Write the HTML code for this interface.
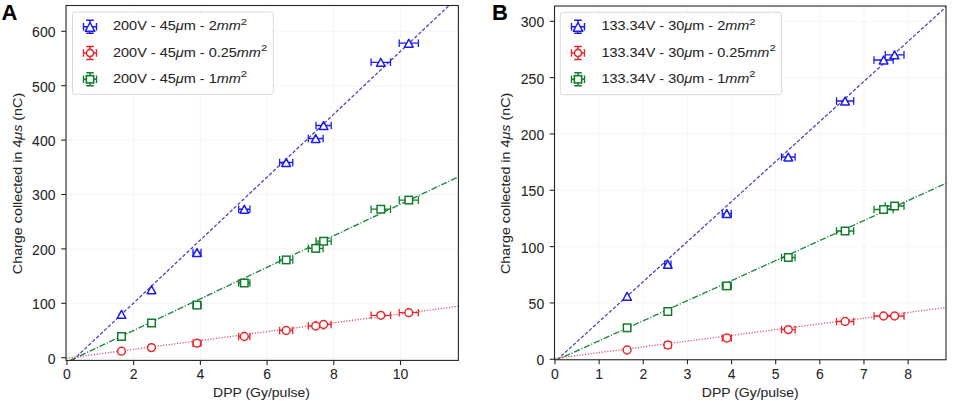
<!DOCTYPE html><html><head><meta charset="utf-8"><style>text{stroke:#262626;stroke-width:0.06px}html,body{margin:0;padding:0;width:955px;height:401px;overflow:hidden;background:#fff;position:relative}</style></head><body><svg width="955" height="401" viewBox="0 0 955 401" style="position:absolute;left:0;top:0">
<g style='font-family:"Liberation Sans",sans-serif' fill="#262626">
<defs><clipPath id="ca"><rect x="66.0" y="5.5" width="392.4" height="354.9"/></clipPath><clipPath id="cb"><rect x="554.5" y="6" width="391.5" height="353.75"/></clipPath></defs>
<line x1="67.0" y1="5.5" x2="67.0" y2="360.4" stroke="#f5f5f5" stroke-width="1"/>
<line x1="133.7" y1="5.5" x2="133.7" y2="360.4" stroke="#f5f5f5" stroke-width="1"/>
<line x1="200.4" y1="5.5" x2="200.4" y2="360.4" stroke="#f5f5f5" stroke-width="1"/>
<line x1="267.1" y1="5.5" x2="267.1" y2="360.4" stroke="#f5f5f5" stroke-width="1"/>
<line x1="333.8" y1="5.5" x2="333.8" y2="360.4" stroke="#f5f5f5" stroke-width="1"/>
<line x1="400.5" y1="5.5" x2="400.5" y2="360.4" stroke="#f5f5f5" stroke-width="1"/>
<line x1="66.0" y1="357.7" x2="458.4" y2="357.7" stroke="#f5f5f5" stroke-width="1"/>
<line x1="66.0" y1="303.3" x2="458.4" y2="303.3" stroke="#f5f5f5" stroke-width="1"/>
<line x1="66.0" y1="248.9" x2="458.4" y2="248.9" stroke="#f5f5f5" stroke-width="1"/>
<line x1="66.0" y1="194.5" x2="458.4" y2="194.5" stroke="#f5f5f5" stroke-width="1"/>
<line x1="66.0" y1="140.1" x2="458.4" y2="140.1" stroke="#f5f5f5" stroke-width="1"/>
<line x1="66.0" y1="85.7" x2="458.4" y2="85.7" stroke="#f5f5f5" stroke-width="1"/>
<line x1="66.0" y1="31.3" x2="458.4" y2="31.3" stroke="#f5f5f5" stroke-width="1"/>
<line x1="72.7" y1="360.4" x2="448.5" y2="6.0" stroke="#4b45c0" stroke-width="1.3" stroke-dasharray="3.5 1.9" clip-path="url(#ca)"/>
<line x1="70.2" y1="360.4" x2="458.4" y2="176.8" stroke="#1f8a45" stroke-width="1.4" stroke-dasharray="6.2 1.7 1.2 1.7" clip-path="url(#ca)"/>
<line x1="66.0" y1="358.3" x2="458.4" y2="306.25" stroke="#d8506a" stroke-width="1.3" stroke-dasharray="1.2 1.6" clip-path="url(#ca)"/>
<path d="M193.0,252.5 H201.0 M193.0,248.7 V256.3 M201.0,248.7 V256.3" stroke="#1c1cf0" stroke-width="1.3" fill="none"/>
<path d="M238.70000000000002,209.25 H249.9 M238.70000000000002,205.45 V213.05 M249.9,205.45 V213.05" stroke="#1c1cf0" stroke-width="1.3" fill="none"/>
<path d="M279.59999999999997,162.5 H292.8 M279.59999999999997,158.7 V166.3 M292.8,158.7 V166.3" stroke="#1c1cf0" stroke-width="1.3" fill="none"/>
<path d="M308.3,138.5 H323.09999999999997 M308.3,134.7 V142.3 M323.09999999999997,134.7 V142.3" stroke="#1c1cf0" stroke-width="1.3" fill="none"/>
<path d="M316.0,125.5 H331.20000000000005 M316.0,121.7 V129.3 M331.20000000000005,121.7 V129.3" stroke="#1c1cf0" stroke-width="1.3" fill="none"/>
<path d="M371.1,62.3 H390.5 M371.1,58.5 V66.1 M390.5,58.5 V66.1" stroke="#1c1cf0" stroke-width="1.3" fill="none"/>
<path d="M399.2,43.2 H418.40000000000003 M399.2,39.400000000000006 V47.0 M418.40000000000003,39.400000000000006 V47.0" stroke="#1c1cf0" stroke-width="1.3" fill="none"/>
<path d="M121.5,310.44399999999996 L125.8,318.356 L117.2,318.356 Z" fill="#fff" stroke="#1c1cf0" stroke-width="1.5" stroke-linejoin="round"/>
<path d="M151.5,285.74399999999997 L155.8,293.656 L147.2,293.656 Z" fill="#fff" stroke="#1c1cf0" stroke-width="1.5" stroke-linejoin="round"/>
<path d="M197.0,248.544 L201.3,256.456 L192.7,256.456 Z" fill="#fff" stroke="#1c1cf0" stroke-width="1.5" stroke-linejoin="round"/>
<path d="M244.3,205.294 L248.60000000000002,213.206 L240.0,213.206 Z" fill="#fff" stroke="#1c1cf0" stroke-width="1.5" stroke-linejoin="round"/>
<path d="M286.2,158.544 L290.5,166.456 L281.9,166.456 Z" fill="#fff" stroke="#1c1cf0" stroke-width="1.5" stroke-linejoin="round"/>
<path d="M315.7,134.544 L320.0,142.456 L311.4,142.456 Z" fill="#fff" stroke="#1c1cf0" stroke-width="1.5" stroke-linejoin="round"/>
<path d="M323.6,121.544 L327.90000000000003,129.456 L319.3,129.456 Z" fill="#fff" stroke="#1c1cf0" stroke-width="1.5" stroke-linejoin="round"/>
<path d="M380.8,58.343999999999994 L385.1,66.256 L376.5,66.256 Z" fill="#fff" stroke="#1c1cf0" stroke-width="1.5" stroke-linejoin="round"/>
<path d="M408.8,39.244 L413.1,47.156000000000006 L404.5,47.156000000000006 Z" fill="#fff" stroke="#1c1cf0" stroke-width="1.5" stroke-linejoin="round"/>
<path d="M193.0,343.2 H201.0 M193.0,339.4 V347.0 M201.0,339.4 V347.0" stroke="#e8282c" stroke-width="1.3" fill="none"/>
<path d="M238.70000000000002,336.5 H249.9 M238.70000000000002,332.7 V340.3 M249.9,332.7 V340.3" stroke="#e8282c" stroke-width="1.3" fill="none"/>
<path d="M279.59999999999997,330.5 H292.8 M279.59999999999997,326.7 V334.3 M292.8,326.7 V334.3" stroke="#e8282c" stroke-width="1.3" fill="none"/>
<path d="M308.3,326.0 H323.09999999999997 M308.3,322.2 V329.8 M323.09999999999997,322.2 V329.8" stroke="#e8282c" stroke-width="1.3" fill="none"/>
<path d="M316.0,324.5 H331.20000000000005 M316.0,320.7 V328.3 M331.20000000000005,320.7 V328.3" stroke="#e8282c" stroke-width="1.3" fill="none"/>
<path d="M371.1,315.3 H390.5 M371.1,311.5 V319.1 M390.5,311.5 V319.1" stroke="#e8282c" stroke-width="1.3" fill="none"/>
<path d="M399.2,312.7 H418.40000000000003 M399.2,308.9 V316.5 M418.40000000000003,308.9 V316.5" stroke="#e8282c" stroke-width="1.3" fill="none"/>
<circle cx="121.5" cy="351.2" r="3.9" fill="#fff" stroke="#e8282c" stroke-width="1.5"/>
<circle cx="151.5" cy="347.6" r="3.9" fill="#fff" stroke="#e8282c" stroke-width="1.5"/>
<circle cx="197.0" cy="343.2" r="3.9" fill="#fff" stroke="#e8282c" stroke-width="1.5"/>
<circle cx="244.3" cy="336.5" r="3.9" fill="#fff" stroke="#e8282c" stroke-width="1.5"/>
<circle cx="286.2" cy="330.5" r="3.9" fill="#fff" stroke="#e8282c" stroke-width="1.5"/>
<circle cx="315.7" cy="326.0" r="3.9" fill="#fff" stroke="#e8282c" stroke-width="1.5"/>
<circle cx="323.6" cy="324.5" r="3.9" fill="#fff" stroke="#e8282c" stroke-width="1.5"/>
<circle cx="380.8" cy="315.3" r="3.9" fill="#fff" stroke="#e8282c" stroke-width="1.5"/>
<circle cx="408.8" cy="312.7" r="3.9" fill="#fff" stroke="#e8282c" stroke-width="1.5"/>
<path d="M193.0,305.1 H201.0 M193.0,301.3 V308.90000000000003 M201.0,301.3 V308.90000000000003" stroke="#137c2c" stroke-width="1.3" fill="none"/>
<path d="M238.70000000000002,283.0 H249.9 M238.70000000000002,279.2 V286.8 M249.9,279.2 V286.8" stroke="#137c2c" stroke-width="1.3" fill="none"/>
<path d="M279.59999999999997,259.9 H292.8 M279.59999999999997,256.09999999999997 V263.7 M292.8,256.09999999999997 V263.7" stroke="#137c2c" stroke-width="1.3" fill="none"/>
<path d="M308.3,248.4 H323.09999999999997 M308.3,244.6 V252.20000000000002 M323.09999999999997,244.6 V252.20000000000002" stroke="#137c2c" stroke-width="1.3" fill="none"/>
<path d="M316.0,241.2 H331.20000000000005 M316.0,237.39999999999998 V245.0 M331.20000000000005,237.39999999999998 V245.0" stroke="#137c2c" stroke-width="1.3" fill="none"/>
<path d="M371.1,209.2 H390.5 M371.1,205.39999999999998 V213.0 M390.5,205.39999999999998 V213.0" stroke="#137c2c" stroke-width="1.3" fill="none"/>
<path d="M399.2,200.1 H418.40000000000003 M399.2,196.29999999999998 V203.9 M418.40000000000003,196.29999999999998 V203.9" stroke="#137c2c" stroke-width="1.3" fill="none"/>
<rect x="117.75" y="332.75" width="7.5" height="7.5" fill="#fff" stroke="#137c2c" stroke-width="1.5"/>
<rect x="147.75" y="319.25" width="7.5" height="7.5" fill="#fff" stroke="#137c2c" stroke-width="1.5"/>
<rect x="193.25" y="301.35" width="7.5" height="7.5" fill="#fff" stroke="#137c2c" stroke-width="1.5"/>
<rect x="240.55" y="279.25" width="7.5" height="7.5" fill="#fff" stroke="#137c2c" stroke-width="1.5"/>
<rect x="282.45" y="256.15" width="7.5" height="7.5" fill="#fff" stroke="#137c2c" stroke-width="1.5"/>
<rect x="311.95" y="244.65" width="7.5" height="7.5" fill="#fff" stroke="#137c2c" stroke-width="1.5"/>
<rect x="319.85" y="237.45" width="7.5" height="7.5" fill="#fff" stroke="#137c2c" stroke-width="1.5"/>
<rect x="377.05" y="205.45" width="7.5" height="7.5" fill="#fff" stroke="#137c2c" stroke-width="1.5"/>
<rect x="405.05" y="196.35" width="7.5" height="7.5" fill="#fff" stroke="#137c2c" stroke-width="1.5"/>
<rect x="66.0" y="5.5" width="392.4" height="354.9" fill="none" stroke="#262626" stroke-width="1.1"/>
<line x1="67.0" y1="360.4" x2="67.0" y2="365.0" stroke="#262626" stroke-width="1.1"/>
<g transform="translate(67.05,379.1) scale(1.0,1)"><text x="0" y="0" font-size="14" text-anchor="middle" letter-spacing="0.1">0</text></g>
<line x1="133.7" y1="360.4" x2="133.7" y2="365.0" stroke="#262626" stroke-width="1.1"/>
<g transform="translate(133.75,379.1) scale(1.0,1)"><text x="0" y="0" font-size="14" text-anchor="middle" letter-spacing="0.1">2</text></g>
<line x1="200.4" y1="360.4" x2="200.4" y2="365.0" stroke="#262626" stroke-width="1.1"/>
<g transform="translate(200.45000000000002,379.1) scale(1.0,1)"><text x="0" y="0" font-size="14" text-anchor="middle" letter-spacing="0.1">4</text></g>
<line x1="267.1" y1="360.4" x2="267.1" y2="365.0" stroke="#262626" stroke-width="1.1"/>
<g transform="translate(267.15000000000003,379.1) scale(1.0,1)"><text x="0" y="0" font-size="14" text-anchor="middle" letter-spacing="0.1">6</text></g>
<line x1="333.8" y1="360.4" x2="333.8" y2="365.0" stroke="#262626" stroke-width="1.1"/>
<g transform="translate(333.85,379.1) scale(1.0,1)"><text x="0" y="0" font-size="14" text-anchor="middle" letter-spacing="0.1">8</text></g>
<line x1="400.5" y1="360.4" x2="400.5" y2="365.0" stroke="#262626" stroke-width="1.1"/>
<g transform="translate(400.55,379.1) scale(1.0,1)"><text x="0" y="0" font-size="14" text-anchor="middle" letter-spacing="0.1">10</text></g>
<line x1="61.2" y1="357.7" x2="66.0" y2="357.7" stroke="#262626" stroke-width="1.1"/>
<g transform="translate(55.7,363.59999999999997) scale(1.0,1)"><text x="0" y="0" font-size="14" text-anchor="end" letter-spacing="0.1">0</text></g>
<line x1="61.2" y1="303.3" x2="66.0" y2="303.3" stroke="#262626" stroke-width="1.1"/>
<g transform="translate(55.7,309.2) scale(1.0,1)"><text x="0" y="0" font-size="14" text-anchor="end" letter-spacing="0.1">100</text></g>
<line x1="61.2" y1="248.9" x2="66.0" y2="248.9" stroke="#262626" stroke-width="1.1"/>
<g transform="translate(55.7,254.8) scale(1.0,1)"><text x="0" y="0" font-size="14" text-anchor="end" letter-spacing="0.1">200</text></g>
<line x1="61.2" y1="194.5" x2="66.0" y2="194.5" stroke="#262626" stroke-width="1.1"/>
<g transform="translate(55.7,200.4) scale(1.0,1)"><text x="0" y="0" font-size="14" text-anchor="end" letter-spacing="0.1">300</text></g>
<line x1="61.2" y1="140.1" x2="66.0" y2="140.1" stroke="#262626" stroke-width="1.1"/>
<g transform="translate(55.7,146.0) scale(1.0,1)"><text x="0" y="0" font-size="14" text-anchor="end" letter-spacing="0.1">400</text></g>
<line x1="61.2" y1="85.7" x2="66.0" y2="85.7" stroke="#262626" stroke-width="1.1"/>
<g transform="translate(55.7,91.60000000000001) scale(1.0,1)"><text x="0" y="0" font-size="14" text-anchor="end" letter-spacing="0.1">500</text></g>
<line x1="61.2" y1="31.3" x2="66.0" y2="31.3" stroke="#262626" stroke-width="1.1"/>
<g transform="translate(55.7,37.2) scale(1.0,1)"><text x="0" y="0" font-size="14" text-anchor="end" letter-spacing="0.1">600</text></g>
<line x1="555.0" y1="6.0" x2="555.0" y2="359.75" stroke="#f5f5f5" stroke-width="1"/>
<line x1="599.14" y1="6.0" x2="599.14" y2="359.75" stroke="#f5f5f5" stroke-width="1"/>
<line x1="643.28" y1="6.0" x2="643.28" y2="359.75" stroke="#f5f5f5" stroke-width="1"/>
<line x1="687.42" y1="6.0" x2="687.42" y2="359.75" stroke="#f5f5f5" stroke-width="1"/>
<line x1="731.56" y1="6.0" x2="731.56" y2="359.75" stroke="#f5f5f5" stroke-width="1"/>
<line x1="775.7" y1="6.0" x2="775.7" y2="359.75" stroke="#f5f5f5" stroke-width="1"/>
<line x1="819.84" y1="6.0" x2="819.84" y2="359.75" stroke="#f5f5f5" stroke-width="1"/>
<line x1="863.98" y1="6.0" x2="863.98" y2="359.75" stroke="#f5f5f5" stroke-width="1"/>
<line x1="908.12" y1="6.0" x2="908.12" y2="359.75" stroke="#f5f5f5" stroke-width="1"/>
<line x1="554.5" y1="359.25" x2="946.0" y2="359.25" stroke="#f5f5f5" stroke-width="1"/>
<line x1="554.5" y1="302.93" x2="946.0" y2="302.93" stroke="#f5f5f5" stroke-width="1"/>
<line x1="554.5" y1="246.6" x2="946.0" y2="246.6" stroke="#f5f5f5" stroke-width="1"/>
<line x1="554.5" y1="190.27" x2="946.0" y2="190.27" stroke="#f5f5f5" stroke-width="1"/>
<line x1="554.5" y1="133.95" x2="946.0" y2="133.95" stroke="#f5f5f5" stroke-width="1"/>
<line x1="554.5" y1="77.62" x2="946.0" y2="77.62" stroke="#f5f5f5" stroke-width="1"/>
<line x1="554.5" y1="21.3" x2="946.0" y2="21.3" stroke="#f5f5f5" stroke-width="1"/>
<line x1="557.1" y1="359.75" x2="946.0" y2="7.0" stroke="#4b45c0" stroke-width="1.3" stroke-dasharray="3.5 1.9" clip-path="url(#cb)"/>
<line x1="554.5" y1="361.0" x2="946.0" y2="183.3" stroke="#1f8a45" stroke-width="1.4" stroke-dasharray="6.2 1.7 1.2 1.7" clip-path="url(#cb)"/>
<line x1="554.5" y1="358.4" x2="946.0" y2="307.5" stroke="#d8506a" stroke-width="1.3" stroke-dasharray="1.2 1.6" clip-path="url(#cb)"/>
<path d="M664.5999999999999,264.4 H671.0 M664.5999999999999,260.59999999999997 V268.2 M671.0,260.59999999999997 V268.2" stroke="#1c1cf0" stroke-width="1.3" fill="none"/>
<path d="M722.3,213.6 H731.3 M722.3,209.79999999999998 V217.4 M731.3,209.79999999999998 V217.4" stroke="#1c1cf0" stroke-width="1.3" fill="none"/>
<path d="M781.5,157.0 H795.0999999999999 M781.5,153.2 V160.8 M795.0999999999999,153.2 V160.8" stroke="#1c1cf0" stroke-width="1.3" fill="none"/>
<path d="M836.5,101.0 H853.7 M836.5,97.2 V104.8 M853.7,97.2 V104.8" stroke="#1c1cf0" stroke-width="1.3" fill="none"/>
<path d="M874.0,60.0 H893.2 M874.0,56.2 V63.8 M893.2,56.2 V63.8" stroke="#1c1cf0" stroke-width="1.3" fill="none"/>
<path d="M885.2,54.9 H904.0 M885.2,51.1 V58.699999999999996 M904.0,51.1 V58.699999999999996" stroke="#1c1cf0" stroke-width="1.3" fill="none"/>
<path d="M627.1,292.344 L631.4,300.25600000000003 L622.8000000000001,300.25600000000003 Z" fill="#fff" stroke="#1c1cf0" stroke-width="1.5" stroke-linejoin="round"/>
<path d="M667.8,260.44399999999996 L672.0999999999999,268.356 L663.5,268.356 Z" fill="#fff" stroke="#1c1cf0" stroke-width="1.5" stroke-linejoin="round"/>
<path d="M726.8,209.644 L731.0999999999999,217.55599999999998 L722.5,217.55599999999998 Z" fill="#fff" stroke="#1c1cf0" stroke-width="1.5" stroke-linejoin="round"/>
<path d="M788.3,153.044 L792.5999999999999,160.956 L784.0,160.956 Z" fill="#fff" stroke="#1c1cf0" stroke-width="1.5" stroke-linejoin="round"/>
<path d="M845.1,97.044 L849.4,104.956 L840.8000000000001,104.956 Z" fill="#fff" stroke="#1c1cf0" stroke-width="1.5" stroke-linejoin="round"/>
<path d="M883.6,56.044 L887.9,63.956 L879.3000000000001,63.956 Z" fill="#fff" stroke="#1c1cf0" stroke-width="1.5" stroke-linejoin="round"/>
<path d="M894.6,50.943999999999996 L898.9,58.856 L890.3000000000001,58.856 Z" fill="#fff" stroke="#1c1cf0" stroke-width="1.5" stroke-linejoin="round"/>
<path d="M664.5999999999999,345.0 H671.0 M664.5999999999999,341.2 V348.8 M671.0,341.2 V348.8" stroke="#e8282c" stroke-width="1.3" fill="none"/>
<path d="M722.3,338.0 H731.3 M722.3,334.2 V341.8 M731.3,334.2 V341.8" stroke="#e8282c" stroke-width="1.3" fill="none"/>
<path d="M781.5,329.6 H795.0999999999999 M781.5,325.8 V333.40000000000003 M795.0999999999999,325.8 V333.40000000000003" stroke="#e8282c" stroke-width="1.3" fill="none"/>
<path d="M836.5,321.5 H853.7 M836.5,317.7 V325.3 M853.7,317.7 V325.3" stroke="#e8282c" stroke-width="1.3" fill="none"/>
<path d="M874.0,316.0 H893.2 M874.0,312.2 V319.8 M893.2,312.2 V319.8" stroke="#e8282c" stroke-width="1.3" fill="none"/>
<path d="M885.2,316.0 H904.0 M885.2,312.2 V319.8 M904.0,312.2 V319.8" stroke="#e8282c" stroke-width="1.3" fill="none"/>
<circle cx="627.1" cy="350.0" r="3.9" fill="#fff" stroke="#e8282c" stroke-width="1.5"/>
<circle cx="667.8" cy="345.0" r="3.9" fill="#fff" stroke="#e8282c" stroke-width="1.5"/>
<circle cx="726.8" cy="338.0" r="3.9" fill="#fff" stroke="#e8282c" stroke-width="1.5"/>
<circle cx="788.3" cy="329.6" r="3.9" fill="#fff" stroke="#e8282c" stroke-width="1.5"/>
<circle cx="845.1" cy="321.5" r="3.9" fill="#fff" stroke="#e8282c" stroke-width="1.5"/>
<circle cx="883.6" cy="316.0" r="3.9" fill="#fff" stroke="#e8282c" stroke-width="1.5"/>
<circle cx="894.6" cy="316.0" r="3.9" fill="#fff" stroke="#e8282c" stroke-width="1.5"/>
<path d="M664.5999999999999,311.5 H671.0 M664.5999999999999,307.7 V315.3 M671.0,307.7 V315.3" stroke="#137c2c" stroke-width="1.3" fill="none"/>
<path d="M722.3,285.9 H731.3 M722.3,282.09999999999997 V289.7 M731.3,282.09999999999997 V289.7" stroke="#137c2c" stroke-width="1.3" fill="none"/>
<path d="M781.5,257.5 H795.0999999999999 M781.5,253.7 V261.3 M795.0999999999999,253.7 V261.3" stroke="#137c2c" stroke-width="1.3" fill="none"/>
<path d="M836.5,231.0 H853.7 M836.5,227.2 V234.8 M853.7,227.2 V234.8" stroke="#137c2c" stroke-width="1.3" fill="none"/>
<path d="M874.0,209.5 H893.2 M874.0,205.7 V213.3 M893.2,205.7 V213.3" stroke="#137c2c" stroke-width="1.3" fill="none"/>
<path d="M885.2,206.0 H904.0 M885.2,202.2 V209.8 M904.0,202.2 V209.8" stroke="#137c2c" stroke-width="1.3" fill="none"/>
<rect x="623.35" y="324.05" width="7.5" height="7.5" fill="#fff" stroke="#137c2c" stroke-width="1.5"/>
<rect x="664.05" y="307.75" width="7.5" height="7.5" fill="#fff" stroke="#137c2c" stroke-width="1.5"/>
<rect x="723.05" y="282.15" width="7.5" height="7.5" fill="#fff" stroke="#137c2c" stroke-width="1.5"/>
<rect x="784.55" y="253.75" width="7.5" height="7.5" fill="#fff" stroke="#137c2c" stroke-width="1.5"/>
<rect x="841.35" y="227.25" width="7.5" height="7.5" fill="#fff" stroke="#137c2c" stroke-width="1.5"/>
<rect x="879.85" y="205.75" width="7.5" height="7.5" fill="#fff" stroke="#137c2c" stroke-width="1.5"/>
<rect x="890.85" y="202.25" width="7.5" height="7.5" fill="#fff" stroke="#137c2c" stroke-width="1.5"/>
<rect x="554.5" y="6.0" width="391.5" height="353.75" fill="none" stroke="#262626" stroke-width="1.1"/>
<line x1="555.0" y1="359.75" x2="555.0" y2="364.35" stroke="#262626" stroke-width="1.1"/>
<g transform="translate(555.05,379.1) scale(1.0,1)"><text x="0" y="0" font-size="14" text-anchor="middle" letter-spacing="0.1">0</text></g>
<line x1="599.14" y1="359.75" x2="599.14" y2="364.35" stroke="#262626" stroke-width="1.1"/>
<g transform="translate(599.1899999999999,379.1) scale(1.0,1)"><text x="0" y="0" font-size="14" text-anchor="middle" letter-spacing="0.1">1</text></g>
<line x1="643.28" y1="359.75" x2="643.28" y2="364.35" stroke="#262626" stroke-width="1.1"/>
<g transform="translate(643.3299999999999,379.1) scale(1.0,1)"><text x="0" y="0" font-size="14" text-anchor="middle" letter-spacing="0.1">2</text></g>
<line x1="687.42" y1="359.75" x2="687.42" y2="364.35" stroke="#262626" stroke-width="1.1"/>
<g transform="translate(687.4699999999999,379.1) scale(1.0,1)"><text x="0" y="0" font-size="14" text-anchor="middle" letter-spacing="0.1">3</text></g>
<line x1="731.56" y1="359.75" x2="731.56" y2="364.35" stroke="#262626" stroke-width="1.1"/>
<g transform="translate(731.6099999999999,379.1) scale(1.0,1)"><text x="0" y="0" font-size="14" text-anchor="middle" letter-spacing="0.1">4</text></g>
<line x1="775.7" y1="359.75" x2="775.7" y2="364.35" stroke="#262626" stroke-width="1.1"/>
<g transform="translate(775.75,379.1) scale(1.0,1)"><text x="0" y="0" font-size="14" text-anchor="middle" letter-spacing="0.1">5</text></g>
<line x1="819.84" y1="359.75" x2="819.84" y2="364.35" stroke="#262626" stroke-width="1.1"/>
<g transform="translate(819.89,379.1) scale(1.0,1)"><text x="0" y="0" font-size="14" text-anchor="middle" letter-spacing="0.1">6</text></g>
<line x1="863.98" y1="359.75" x2="863.98" y2="364.35" stroke="#262626" stroke-width="1.1"/>
<g transform="translate(864.03,379.1) scale(1.0,1)"><text x="0" y="0" font-size="14" text-anchor="middle" letter-spacing="0.1">7</text></g>
<line x1="908.12" y1="359.75" x2="908.12" y2="364.35" stroke="#262626" stroke-width="1.1"/>
<g transform="translate(908.17,379.1) scale(1.0,1)"><text x="0" y="0" font-size="14" text-anchor="middle" letter-spacing="0.1">8</text></g>
<line x1="549.7" y1="359.25" x2="554.5" y2="359.25" stroke="#262626" stroke-width="1.1"/>
<g transform="translate(544.4,365.15) scale(1.0,1)"><text x="0" y="0" font-size="14" text-anchor="end" letter-spacing="0.1">0</text></g>
<line x1="549.7" y1="302.93" x2="554.5" y2="302.93" stroke="#262626" stroke-width="1.1"/>
<g transform="translate(544.4,308.83) scale(1.0,1)"><text x="0" y="0" font-size="14" text-anchor="end" letter-spacing="0.1">50</text></g>
<line x1="549.7" y1="246.6" x2="554.5" y2="246.6" stroke="#262626" stroke-width="1.1"/>
<g transform="translate(544.4,252.5) scale(1.0,1)"><text x="0" y="0" font-size="14" text-anchor="end" letter-spacing="0.1">100</text></g>
<line x1="549.7" y1="190.27" x2="554.5" y2="190.27" stroke="#262626" stroke-width="1.1"/>
<g transform="translate(544.4,196.17000000000002) scale(1.0,1)"><text x="0" y="0" font-size="14" text-anchor="end" letter-spacing="0.1">150</text></g>
<line x1="549.7" y1="133.95" x2="554.5" y2="133.95" stroke="#262626" stroke-width="1.1"/>
<g transform="translate(544.4,139.85) scale(1.0,1)"><text x="0" y="0" font-size="14" text-anchor="end" letter-spacing="0.1">200</text></g>
<line x1="549.7" y1="77.62" x2="554.5" y2="77.62" stroke="#262626" stroke-width="1.1"/>
<g transform="translate(544.4,83.52000000000001) scale(1.0,1)"><text x="0" y="0" font-size="14" text-anchor="end" letter-spacing="0.1">250</text></g>
<line x1="549.7" y1="21.3" x2="554.5" y2="21.3" stroke="#262626" stroke-width="1.1"/>
<g transform="translate(544.4,27.200000000000003) scale(1.0,1)"><text x="0" y="0" font-size="14" text-anchor="end" letter-spacing="0.1">300</text></g>
<rect x="72.5" y="12.0" width="200.8" height="82.4" rx="2.5" ry="2.5" fill="#ffffff" stroke="#d9d9d9" stroke-width="1"/>
<path d="M83.5,26.7 H96.5 M90.0,20.2 V33.2 M83.5,22.9 V30.5 M96.5,22.9 V30.5 M86.2,20.2 H93.8 M86.2,33.2 H93.8" stroke="#1c1cf0" stroke-width="1.4" fill="none"/>
<path d="M90.0,22.483999999999998 L94.8,31.316 L85.2,31.316 Z" fill="#fff" stroke="#1c1cf0" stroke-width="1.5" stroke-linejoin="round"/>
<g transform="translate(113.0,30.3) scale(1.150,1)"><text x="0" y="0" font-size="12.6">200V - 45<tspan font-style="italic">μ</tspan>m - 2<tspan font-style="italic">mm</tspan><tspan font-size="9.8" dy="-5.6">2</tspan></text></g>
<path d="M83.5,53.0 H96.5 M90.0,46.5 V59.5 M83.5,49.2 V56.8 M96.5,49.2 V56.8 M86.2,46.5 H93.8 M86.2,59.5 H93.8" stroke="#e8282c" stroke-width="1.4" fill="none"/>
<circle cx="90.0" cy="53.0" r="3.6" fill="#fff" stroke="#e8282c" stroke-width="1.6"/>
<g transform="translate(113.0,56.6) scale(1.150,1)"><text x="0" y="0" font-size="12.6">200V - 45<tspan font-style="italic">μ</tspan>m - 0.25<tspan font-style="italic">mm</tspan><tspan font-size="9.8" dy="-5.6">2</tspan></text></g>
<path d="M83.5,79.3 H96.5 M90.0,72.8 V85.8 M83.5,75.5 V83.1 M96.5,75.5 V83.1 M86.2,72.8 H93.8 M86.2,85.8 H93.8" stroke="#137c2c" stroke-width="1.4" fill="none"/>
<rect x="86.35" y="75.64999999999999" width="7.3" height="7.3" fill="#fff" stroke="#137c2c" stroke-width="1.6"/>
<g transform="translate(113.0,82.89999999999999) scale(1.150,1)"><text x="0" y="0" font-size="12.6">200V - 45<tspan font-style="italic">μ</tspan>m - 1<tspan font-style="italic">mm</tspan><tspan font-size="9.8" dy="-5.6">2</tspan></text></g>
<rect x="560.3" y="12.3" width="221.10000000000002" height="82.4" rx="2.5" ry="2.5" fill="#ffffff" stroke="#d9d9d9" stroke-width="1"/>
<path d="M571.5,26.7 H584.5 M578.0,20.2 V33.2 M571.5,22.9 V30.5 M584.5,22.9 V30.5 M574.2,20.2 H581.8 M574.2,33.2 H581.8" stroke="#1c1cf0" stroke-width="1.4" fill="none"/>
<path d="M578.0,22.483999999999998 L582.8,31.316 L573.2,31.316 Z" fill="#fff" stroke="#1c1cf0" stroke-width="1.5" stroke-linejoin="round"/>
<g transform="translate(601.4,30.3) scale(1.150,1)"><text x="0" y="0" font-size="12.6">133.34V - 30<tspan font-style="italic">μ</tspan>m - 2<tspan font-style="italic">mm</tspan><tspan font-size="9.8" dy="-5.6">2</tspan></text></g>
<path d="M571.5,53.0 H584.5 M578.0,46.5 V59.5 M571.5,49.2 V56.8 M584.5,49.2 V56.8 M574.2,46.5 H581.8 M574.2,59.5 H581.8" stroke="#e8282c" stroke-width="1.4" fill="none"/>
<circle cx="578.0" cy="53.0" r="3.6" fill="#fff" stroke="#e8282c" stroke-width="1.6"/>
<g transform="translate(601.4,56.6) scale(1.150,1)"><text x="0" y="0" font-size="12.6">133.34V - 30<tspan font-style="italic">μ</tspan>m - 0.25<tspan font-style="italic">mm</tspan><tspan font-size="9.8" dy="-5.6">2</tspan></text></g>
<path d="M571.5,79.3 H584.5 M578.0,72.8 V85.8 M571.5,75.5 V83.1 M584.5,75.5 V83.1 M574.2,72.8 H581.8 M574.2,85.8 H581.8" stroke="#137c2c" stroke-width="1.4" fill="none"/>
<rect x="574.35" y="75.64999999999999" width="7.3" height="7.3" fill="#fff" stroke="#137c2c" stroke-width="1.6"/>
<g transform="translate(601.4,82.89999999999999) scale(1.150,1)"><text x="0" y="0" font-size="12.6">133.34V - 30<tspan font-style="italic">μ</tspan>m - 1<tspan font-style="italic">mm</tspan><tspan font-size="9.8" dy="-5.6">2</tspan></text></g>
<g transform="translate(22.0,183.5) rotate(-90) scale(1.137,1)"><text x="0" y="0" font-size="12.6" text-anchor="middle">Charge collected in 4<tspan font-style="italic">μs</tspan> (nC)</text></g>
<g transform="translate(510.4,183.4) rotate(-90) scale(1.137,1)"><text x="0" y="0" font-size="12.6" text-anchor="middle">Charge collected in 4<tspan font-style="italic">μs</tspan> (nC)</text></g>
<g transform="translate(261.5,397.0) scale(1.11,1)"><text x="0" y="0" font-size="12.6" text-anchor="middle" >DPP (Gy/pulse)</text></g>
<g transform="translate(750.2,397.0) scale(1.11,1)"><text x="0" y="0" font-size="12.6" text-anchor="middle" >DPP (Gy/pulse)</text></g>
<text x="1.5" y="20" font-size="22" font-weight="bold" fill="#000">A</text>
<text x="492.1" y="20" font-size="22" font-weight="bold" fill="#000">B</text>
</g></svg></body></html>
